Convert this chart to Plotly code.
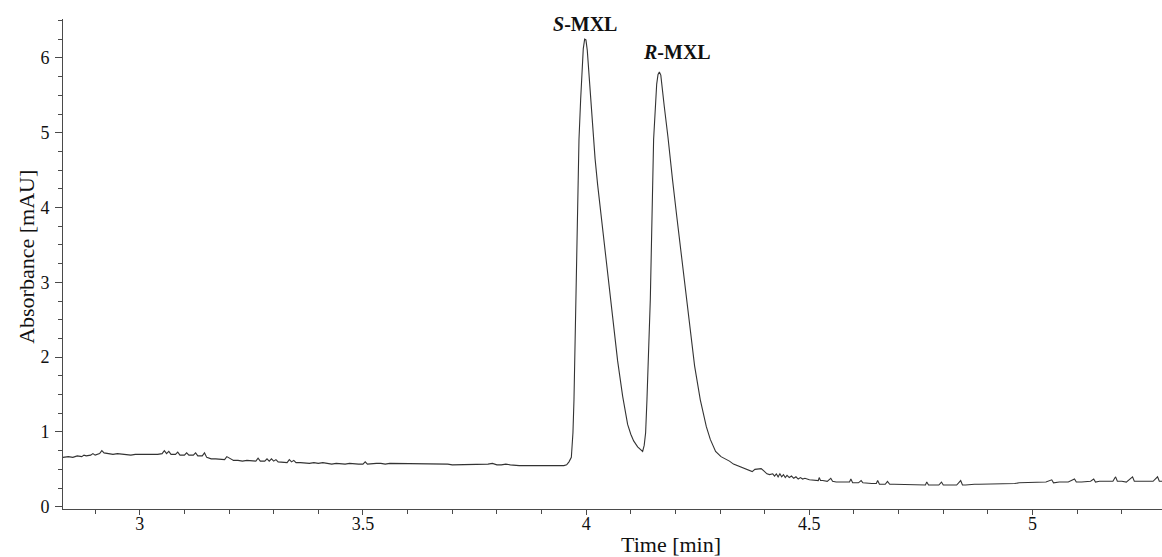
import plotly.graph_objects as go

# ---- data ----
time_min = [
    2.828, 2.84, 2.85, 2.86, 2.87, 2.875, 2.88, 2.89, 2.895, 2.90, 2.91, 2.915, 2.92, 2.93, 2.94, 2.95,
    2.96, 2.97, 2.98, 2.99, 3.00, 3.01, 3.02, 3.03, 3.04, 3.05, 3.055, 3.06, 3.065, 3.07, 3.08, 3.085,
    3.09, 3.10, 3.105, 3.11, 3.12, 3.125, 3.13, 3.14, 3.145, 3.15, 3.16, 3.17, 3.18, 3.19, 3.195, 3.20,
    3.21, 3.22, 3.23, 3.24, 3.25, 3.26, 3.265, 3.27, 3.28, 3.285, 3.29, 3.295, 3.30, 3.305, 3.31, 3.32,
    3.33, 3.335, 3.34, 3.345, 3.35, 3.36, 3.37, 3.38, 3.39, 3.40, 3.41, 3.42, 3.43, 3.44, 3.45, 3.46,
    3.47, 3.48, 3.49, 3.50, 3.505, 3.51, 3.52, 3.53, 3.54, 3.55, 3.56, 3.57, 3.58, 3.59, 3.60, 3.61,
    3.62, 3.63, 3.64, 3.65, 3.66, 3.67, 3.68, 3.69, 3.70, 3.71, 3.72, 3.73, 3.74, 3.75, 3.76, 3.77,
    3.78, 3.79, 3.80, 3.81, 3.82, 3.83, 3.84, 3.85, 3.86, 3.87, 3.88, 3.89, 3.90, 3.91, 3.92, 3.93,
    3.94, 3.95, 3.9563,
    # S-MXL peak
    3.9615, 3.9668, 3.9704, 3.9727, 3.9742, 3.9758, 3.9798, 3.9839, 3.9877, 3.9905, 3.9935, 3.9966,
    3.9995, 4.0025, 4.0056, 4.0100, 4.0152, 4.0200, 4.0258, 4.0347, 4.0437, 4.0549, 4.0616, 4.0705,
    4.0817, 4.0929, 4.1000, 4.1064, 4.1153, 4.1220, 4.1265,
    # R-MXL peak
    4.1300, 4.1332, 4.1362, 4.1392, 4.1437, 4.1511, 4.1545, 4.1580, 4.1610, 4.1640, 4.1672, 4.1705,
    4.1750, 4.1831, 4.1880, 4.1937, 4.2026, 4.2138, 4.2243, 4.2333, 4.2430, 4.2557, 4.2692, 4.2781,
    4.2900, 4.3020, 4.3210, 4.3300, 4.3440, 4.3550,
    4.3660, 4.3720, 4.3780, 4.3850, 4.3920, 4.3980, 4.4050, 4.4110, 4.4180, 4.4220, 4.4260, 4.4300,
    4.4340, 4.4380, 4.4420, 4.4460, 4.4500, 4.4550, 4.4600, 4.4650, 4.4700, 4.4750, 4.48, 4.485,
    4.49, 4.50, 4.51, 4.52, 4.522, 4.525, 4.53, 4.54, 4.548, 4.552, 4.56, 4.57, 4.58, 4.59, 4.593,
    4.597, 4.61, 4.616, 4.62, 4.63, 4.64, 4.65, 4.653, 4.657, 4.67, 4.675, 4.68, 4.69, 4.70, 4.71,
    4.72, 4.73, 4.74, 4.75, 4.76, 4.763, 4.767, 4.78, 4.79, 4.796, 4.80, 4.81, 4.82, 4.83, 4.839,
    4.843, 4.85, 4.86, 4.87, 4.88, 4.89, 4.90, 4.91, 4.92, 4.93, 4.94, 4.95, 4.96, 4.97, 4.98, 4.99,
    5.00, 5.01, 5.02, 5.03, 5.043, 5.047, 5.06, 5.07, 5.08, 5.094, 5.098, 5.11, 5.12, 5.13, 5.137,
    5.141, 5.15, 5.16, 5.17, 5.18, 5.186, 5.19, 5.20, 5.21, 5.224, 5.228, 5.24, 5.25, 5.26, 5.27,
    5.28, 5.284, 5.29,
]

absorbance_mau = [
    0.66, 0.67, 0.66, 0.68, 0.67, 0.69, 0.68, 0.69, 0.71, 0.69, 0.71, 0.75, 0.72, 0.71, 0.70, 0.71,
    0.70, 0.70, 0.69, 0.70, 0.70, 0.69, 0.70, 0.70, 0.70, 0.71, 0.75, 0.71, 0.74, 0.70, 0.70, 0.73,
    0.69, 0.69, 0.72, 0.69, 0.69, 0.72, 0.68, 0.68, 0.72, 0.66, 0.64, 0.64, 0.63, 0.63, 0.67, 0.65,
    0.62, 0.62, 0.61, 0.62, 0.61, 0.61, 0.65, 0.61, 0.61, 0.64, 0.61, 0.64, 0.61, 0.63, 0.60, 0.60,
    0.59, 0.63, 0.60, 0.62, 0.59, 0.59, 0.58, 0.58, 0.59, 0.58, 0.59, 0.58, 0.57, 0.58, 0.57, 0.57,
    0.58, 0.57, 0.57, 0.57, 0.60, 0.57, 0.58, 0.58, 0.58, 0.57, 0.58, 0.58, 0.57, 0.57, 0.58, 0.57,
    0.57, 0.57, 0.57, 0.58, 0.57, 0.57, 0.58, 0.57, 0.56, 0.56, 0.57, 0.56, 0.56, 0.57, 0.56, 0.56,
    0.57, 0.58, 0.56, 0.56, 0.57, 0.56, 0.55, 0.55, 0.55, 0.55, 0.55, 0.55, 0.55, 0.54, 0.55, 0.55,
    0.55, 0.55, 0.56,
    # S-MXL peak
    0.60, 0.66, 0.99, 1.43, 1.88, 2.77, 3.80, 4.91, 5.45, 5.85, 6.12, 6.25,
    6.24, 6.10, 5.85, 5.45, 4.98, 4.65, 4.30, 3.84, 3.35, 2.77, 2.40, 1.95,
    1.48, 1.10, 0.97, 0.88, 0.80, 0.76, 0.74,
    # R-MXL peak
    0.82, 0.99, 1.43, 1.88, 2.77, 4.91, 5.35, 5.65, 5.78, 5.81, 5.77, 5.62,
    5.35, 4.95, 4.66, 4.36, 3.90, 3.32, 2.77, 2.33, 1.88, 1.43, 1.07, 0.90,
    0.74, 0.67, 0.61, 0.57, 0.54, 0.51,
    0.49, 0.47, 0.50, 0.51, 0.51, 0.48, 0.44, 0.43, 0.44, 0.41, 0.44, 0.40,
    0.44, 0.40, 0.43, 0.39, 0.42, 0.39, 0.41, 0.38, 0.40, 0.37, 0.39, 0.37,
    0.38, 0.36, 0.36, 0.35, 0.39, 0.35, 0.35, 0.34, 0.38, 0.34, 0.33, 0.33, 0.33, 0.33, 0.37,
    0.32, 0.32, 0.35, 0.32, 0.31, 0.31, 0.31, 0.35, 0.30, 0.30, 0.34, 0.30, 0.30, 0.30, 0.29,
    0.30, 0.29, 0.29, 0.29, 0.29, 0.33, 0.29, 0.29, 0.29, 0.33, 0.29, 0.29, 0.29, 0.29, 0.35,
    0.29, 0.29, 0.30, 0.30, 0.30, 0.30, 0.30, 0.30, 0.31, 0.31, 0.31, 0.31, 0.31, 0.32, 0.32, 0.32,
    0.32, 0.32, 0.32, 0.33, 0.36, 0.32, 0.33, 0.33, 0.33, 0.37, 0.33, 0.33, 0.33, 0.34, 0.37,
    0.33, 0.34, 0.34, 0.34, 0.34, 0.40, 0.34, 0.34, 0.33, 0.40, 0.34, 0.34, 0.34, 0.33, 0.34,
    0.40, 0.34, 0.34,
]

peak_labels = ["<b><i>S</i>-MXL</b>", "<b><i>R</i>-MXL</b>"]
peak_label_time = [3.997, 4.203]
peak_label_abs = [6.45, 6.08]

x_tickvals = [3, 3.5, 4, 4.5, 5]
x_ticktext = ["3", "3.5", "4", "4.5", "5"]
y_tickvals = [0, 1, 2, 3, 4, 5, 6]
y_ticktext = ["0", "1", "2", "3", "4", "5", "6"]

FONT = "Liberation Serif, Times New Roman, serif"
AXC = "#4a4a4a"

fig = go.Figure()
fig.add_trace(go.Scatter(
    x=time_min, y=absorbance_mau, mode="lines",
    line=dict(color="#333333", width=1.1), showlegend=False, hoverinfo="skip",
))

for txt, tx, ty in zip(peak_labels, peak_label_time, peak_label_abs):
    fig.add_annotation(x=tx, y=ty, xref="x", yref="y", text=txt, showarrow=False,
                       font=dict(family=FONT, size=20, color="#111111"),
                       xanchor="center", yanchor="middle")

fig.add_annotation(x=4.189, y=-0.073, xref="x", yref="paper", text="Time [min]",
                   showarrow=False, font=dict(family=FONT, size=22, color="#111111"),
                   xanchor="center", yanchor="middle")
fig.add_annotation(x=-0.0335, y=0.515, xref="paper", yref="paper", text="Absorbance [mAU]",
                   textangle=-90, showarrow=False,
                   font=dict(family=FONT, size=22, color="#111111"),
                   xanchor="center", yanchor="middle")

fig.update_layout(
    width=1162, height=557,
    margin=dict(l=63, r=0, t=19, b=48),
    paper_bgcolor="white", plot_bgcolor="white",
    font=dict(family=FONT, size=17, color="#111111"),
)
fig.update_xaxes(
    range=[2.828, 5.29], showgrid=False, zeroline=False,
    showline=True, linecolor=AXC, linewidth=1,
    tickmode="array", tickvals=x_tickvals, ticktext=x_ticktext,
    ticks="outside", ticklen=5, tickcolor=AXC, tickwidth=1,
    ticklabelstandoff=-7,
    tickfont=dict(family=FONT, size=18, color="#111111"),
    minor=dict(dtick=0.1, tick0=0, ticks="outside", ticklen=4, tickcolor=AXC, tickwidth=1, showgrid=False),
)
fig.update_yaxes(
    range=[-0.03, 6.52], showgrid=False, zeroline=False,
    showline=True, linecolor=AXC, linewidth=1,
    tickmode="array", tickvals=y_tickvals, ticktext=y_ticktext,
    ticks="outside", ticklen=7, tickcolor=AXC, tickwidth=1,
    ticklabelstandoff=2,
    tickfont=dict(family=FONT, size=18, color="#111111"),
    minor=dict(dtick=0.25, tick0=0, ticks="outside", ticklen=4, tickcolor=AXC, tickwidth=1, showgrid=False),
)

fig.write_html(
    "out.html",
    config={"displayModeBar": False},
    post_script="document.body.style.margin='0';document.body.style.padding='0';document.body.style.overflow='hidden';",
)
